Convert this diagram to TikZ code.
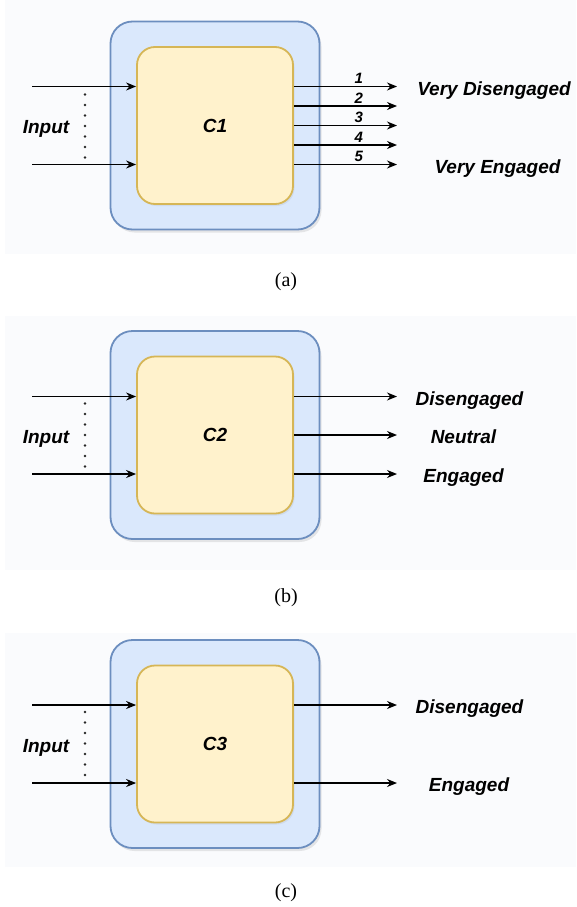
\documentclass[tikz,border=0pt]{standalone}
\usepackage{fontspec}
\setmainfont{Liberation Serif}
\setsansfont{Liberation Sans}
\usetikzlibrary{arrows.meta,positioning,shadows}

\definecolor{boxblue}{HTML}{DAE8FC}
\definecolor{lineblue}{HTML}{6C8EBF}
\definecolor{coreyellow}{HTML}{FFF2CC}
\definecolor{lineyellow}{HTML}{D6B656}
\definecolor{panelbg}{HTML}{FAFBFD}

\begin{document}
\begin{tikzpicture}[x=1pt,y=-1pt,
		> = {Stealth[length=10pt,width=8pt]},
		outer/.style={draw=lineblue, fill=boxblue, line width=1.8pt, rounded corners=22pt,
			minimum width=209pt, minimum height=208pt,
			drop shadow={opacity=0.18,shadow xshift=2pt,shadow yshift=-3pt}},
		core/.style={draw=lineyellow, fill=coreyellow, line width=1.8pt, rounded corners=18pt,
			minimum width=156pt, minimum height=157pt,
			font=\sffamily\bfseries\itshape\fontsize{19}{22}\selectfont,
			drop shadow={opacity=0.12,shadow xshift=1.5pt,shadow yshift=-2pt}},
		lbl/.style={font=\sffamily\bfseries\itshape\fontsize{19}{22}\selectfont, inner sep=0pt, anchor=base},
		num/.style={font=\sffamily\bfseries\itshape\fontsize{15}{17}\selectfont, inner sep=0pt},
		captxt/.style={font=\fontsize{20}{24}\selectfont},
		arr/.style={->, line width=1.4pt},
		dots/.style={line width=2.6pt, line cap=round, dash pattern=on 0pt off 10.5pt, black!85}
		]
		\useasboundingbox (0,0) rectangle (576,907);
		
		% panel (a)
		\fill[panelbg] (5,0) rectangle (576,254);
		\node[outer] (a-box) at (215,125.5) {};
		\node[core] (a-core) at (a-box.center) {C1};
		\node[lbl] (a-in) at (46,133.5) {Input};
		\coordinate (a-i1) at (32,86.5);
		\coordinate (a-i2) at (32,164.5);
		\draw[arr] (a-i1) -- (a-i1 -| a-core.west);
		\draw[arr] (a-i2) -- (a-i2 -| a-core.west);
		\draw[dots] ([xshift=53pt,yshift=-8pt]a-i1) -- ([xshift=53pt,yshift=7pt]a-i2);
		\foreach \k/\dy in {1/-39,2/-19.5,3/0,4/19.5,5/39}{
			\coordinate (a-o\k) at (397,{125.5+(\dy)});
			\draw[arr] (a-o\k -| a-core.east) -- node[num,pos=0.63,above=2pt] {\k} (a-o\k);
		}
		\node[lbl] (a-vd) at (494,95) {Very Disengaged};
		\node[lbl] (a-ve) at (497.5,173) {Very Engaged};
		\node[captxt] (a-cap) at (286,282) {(a)};
		
		% panel (b)
		\fill[panelbg] (5,316) rectangle (576,570);
		\node[outer] (b-box) at (215,435) {};
		\node[core] (b-core) at (b-box.center) {C2};
		\node[lbl] (b-in) at (46,443) {Input};
		\coordinate (b-i1) at (32,396.5);
		\coordinate (b-i2) at (32,474);
		\draw[arr] (b-i1) -- (b-i1 -| b-core.west);
		\draw[arr] (b-i2) -- (b-i2 -| b-core.west);
		\draw[dots] ([xshift=53pt,yshift=-7pt]b-i1) -- ([xshift=53pt,yshift=7pt]b-i2);
		\coordinate (b-o1) at (397,396.5);
		\coordinate (b-o2) at (397,435);
		\coordinate (b-o3) at (397,474);
		\foreach \k in {1,2,3}
			\draw[arr] (b-o\k -| b-core.east) -- (b-o\k);
		\node[lbl] (b-dis) at (469.5,405) {Disengaged};
		\node[lbl] (b-neu) at (463.5,443) {Neutral};
		\node[lbl] (b-eng) at (463.5,482) {Engaged};
		\node[captxt] (b-cap) at (286,598) {(b)};
		
		% panel (c)
		\fill[panelbg] (5,633) rectangle (576,867);
		\node[outer] (c-box) at (215,744) {};
		\node[core] (c-core) at (c-box.center) {C3};
		\node[lbl] (c-in) at (46,752) {Input};
		\coordinate (c-i1) at (32,705);
		\coordinate (c-i2) at (32,783);
		\draw[arr] (c-i1) -- (c-i1 -| c-core.west);
		\draw[arr] (c-i2) -- (c-i2 -| c-core.west);
		\draw[dots] ([xshift=53pt,yshift=-7pt]c-i1) -- ([xshift=53pt,yshift=7pt]c-i2);
		\coordinate (c-o1) at (397,705);
		\coordinate (c-o2) at (397,783);
		\draw[arr] (c-o1 -| c-core.east) -- (c-o1);
		\draw[arr] (c-o2 -| c-core.east) -- (c-o2);
		\node[lbl] (c-dis) at (469.5,713) {Disengaged};
		\node[lbl] (c-eng) at (469,791) {Engaged};
		\node[captxt] (c-cap) at (286,893) {(c)};
	\end{tikzpicture}
\end{document}
